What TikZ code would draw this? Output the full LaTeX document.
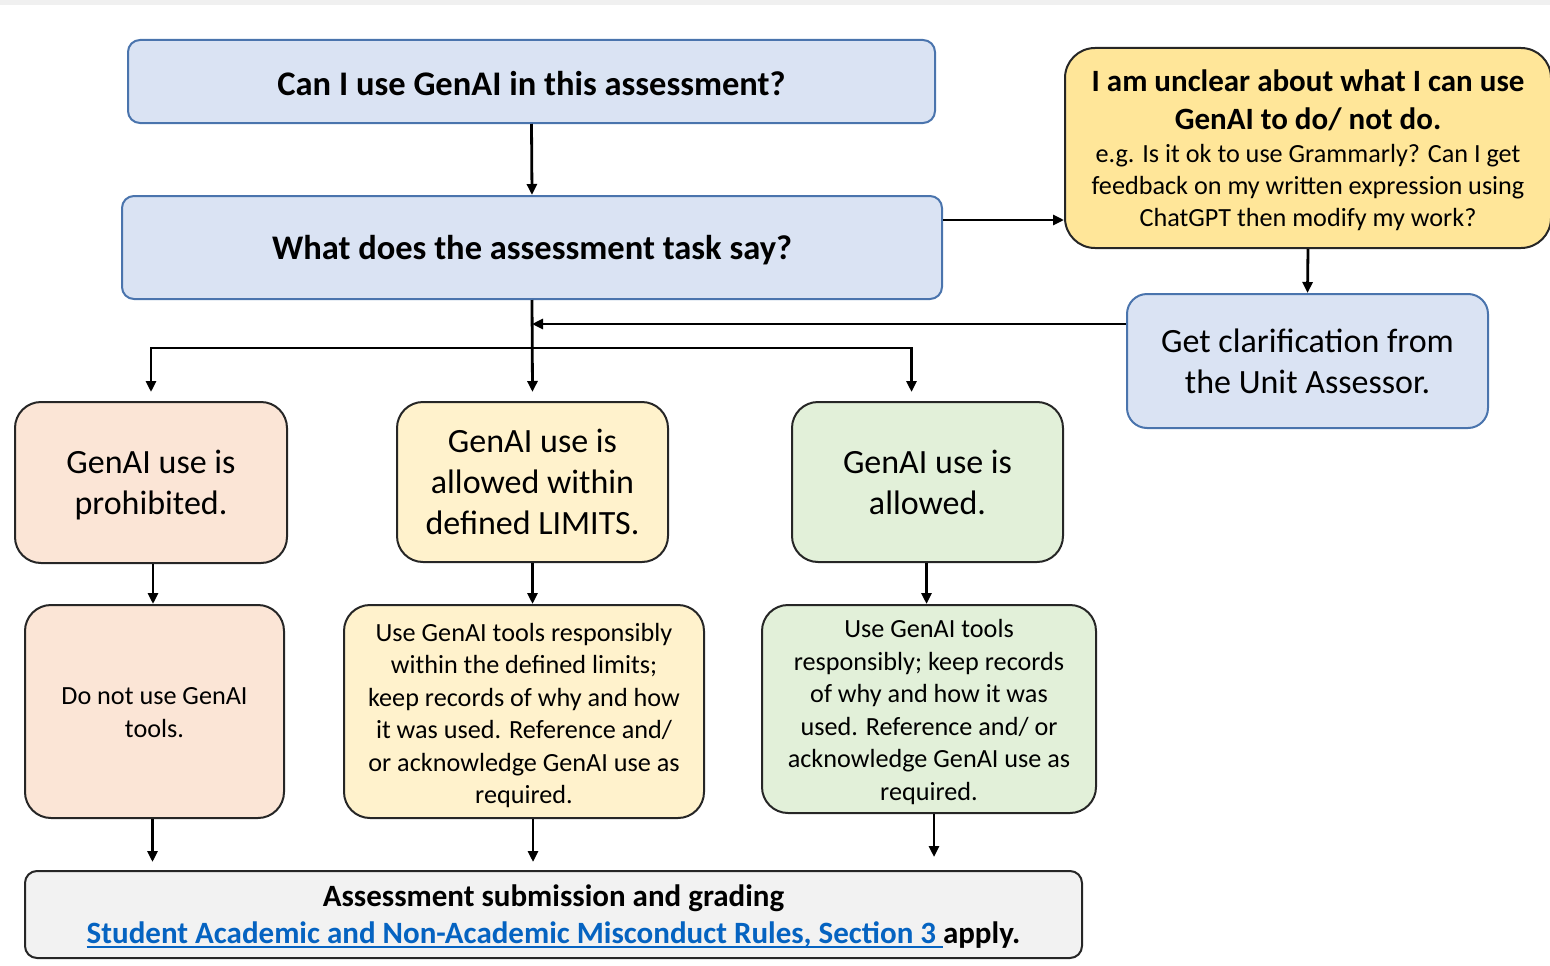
\documentclass[tikz,border=0pt]{standalone}
\usepackage{fontspec}
\setmainfont{Carlito}
\usetikzlibrary{arrows.meta,calc}

\definecolor{bluefill}{HTML}{DAE3F3}
\definecolor{blueline}{HTML}{4A74AD}
\definecolor{yellowfill}{HTML}{FFE699}
\definecolor{peachfill}{HTML}{FBE5D6}
\definecolor{creamfill}{HTML}{FFF2CC}
\definecolor{greenfill}{HTML}{E2F0D9}
\definecolor{greyfill}{HTML}{F2F2F2}
\definecolor{linkblue}{HTML}{0563C1}
\definecolor{topband}{HTML}{F0F0F0}

% underlined hyperlink look
\newcommand\linktext[1]{{\color{linkblue}\setbox0\hbox{#1}\rlap{\raisebox{-5pt}{\rule{\wd0}{1.6pt}}}\box0}}
% move text down inside a box without changing its size
\newcommand\dropby[2]{\raisebox{-#1}[\height][\depth]{#2}}

\tikzset{
  box/.style={draw, line width=2pt, align=center, inner sep=0pt, text=black},
  bluebox/.style={box, fill=bluefill, draw=blueline, rounded corners=12pt},
  darkbox/.style={box, draw=black!85, rounded corners=26pt},
  arr/.style={line width=2.8pt, -{Triangle[length=11pt,width=10pt]}},
  big/.style={font=\fontsize{34}{41}\selectfont},
  bigbold/.style={font=\fontsize{34.5}{41}\selectfont\bfseries},
  small/.style={font=\fontsize{26.2}{32.5}\selectfont},
  line/.style={anchor=base, inner sep=0pt},
}

\begin{document}
\begin{tikzpicture}[x=1pt,y=-1pt]
\useasboundingbox (0,0) rectangle (1550,966);
\fill[topband] (0,0) rectangle (1550,5);

% question boxes
\node[bluebox, bigbold, minimum width=807pt, minimum height=83pt] (q1) at (531.5,81.5)
  {\dropby{2pt}{Can I use GenAI in this assessment?}};
\node[bluebox, bigbold, minimum width=820pt, minimum height=103pt] (q2) at (532,247.5)
  {\dropby{3pt}{What does the assessment task say?}};

% uncertainty branch
\node[darkbox, fill=yellowfill, rounded corners=30pt, minimum width=486pt, minimum height=200pt] (unclear) at (1308,148) {};
\node[line, font=\fontsize{31}{37}\selectfont\bfseries] (u1) at (1308,92) {I am unclear about what I can use};
\node[line, font=\fontsize{31}{37}\selectfont\bfseries] (u2) at (1308,129) {GenAI to do/ not do.};
\node[line, small] (u3) at (1308,162) {e.g. Is it ok to use Grammarly? Can I get};
\node[line, small] (u4) at (1308,194) {feedback on my written expression using};
\node[line, small] (u5) at (1308,226) {ChatGPT then modify my work?};
\node[bluebox, big, rounded corners=20pt, minimum width=361pt, minimum height=134pt] (clar) at (1307.5,361)
  {Get clarification from\\the Unit Assessor.};

% three outcomes
\node[darkbox, big, fill=peachfill, minimum width=272pt, minimum height=161pt] (p1) at (151,482.5)
  {\dropby{3pt}{\parbox{250pt}{\centering GenAI use is\\prohibited.}}};
\node[darkbox, big, fill=creamfill, minimum width=271pt, minimum height=160pt] (p2) at (532.5,482)
  {GenAI use is\\allowed within\\defined LIMITS.};
\node[darkbox, big, fill=greenfill, minimum width=271pt, minimum height=160pt] (p3) at (927.5,482)
  {GenAI use is\\allowed.};

% what to do
\node[darkbox, small, fill=peachfill, minimum width=259pt, minimum height=213pt] (d1) at (154.5,711.5)
  {\dropby{1pt}{\parbox{240pt}{\centering Do not use GenAI\\tools.}}};
\node[darkbox, small, fill=creamfill, minimum width=360pt, minimum height=213pt] (d2) at (524,711.5)
  {\dropby{4pt}{\parbox{340pt}{\centering Use GenAI tools responsibly\\within the defined limits;\\keep records of why and how\\it was used. Reference and/\\or acknowledge GenAI use as\\required.}}};
\node[darkbox, small, fill=greenfill, minimum width=334pt, minimum height=208pt] (d3) at (929,709)
  {\dropby{3pt}{\parbox{320pt}{\centering Use GenAI tools\\responsibly; keep records\\of why and how it was\\used. Reference and/ or\\acknowledge GenAI use as\\required.}}};

% submission
\node[box, draw=black!85, fill=greyfill, rounded corners=12pt, minimum width=1057pt, minimum height=87pt] (bot) at (553.5,914.5) {};
\node[line, font=\fontsize{31}{37}\selectfont\bfseries] (b1) at (553.5,906) {Assessment submission and grading};
\node[line, font=\fontsize{31}{37}\selectfont\bfseries] (b2) at (553.5,943)
  {\linktext{Student Academic and Non-Academic Misconduct Rules, Section 3 }apply.};

% connectors
\draw[arr] (q1.south) -- (q2.north);
\draw[arr] ([yshift=27.5pt]q2.east) -- ([yshift=27.5pt]q2.east -| unclear.west);
\draw[arr] (unclear.south) -- (clar.north);
\draw[arr] ([yshift=37pt]clar.west) -- ([yshift=37pt]clar.west -| q2.south);

\coordinate (fork) at (q2.south |- 0,348);
\draw[arr] (q2.south) -- ([yshift=9pt]p2.north);
\draw[arr] (fork) -| ([yshift=9pt]p1.north);
\draw[arr] (fork) -| ([xshift=-16pt,yshift=9pt]p3.north);

\draw[arr] ([xshift=2pt]p1.south) -- ([xshift=2pt]p1.south |- d1.north);
\draw[arr] (p2.south) -- (p2.south |- d2.north);
\draw[arr] ([xshift=-1pt]p3.south) -- ([xshift=-1pt]p3.south |- d3.north);

\draw[arr] ([xshift=-2pt]d1.south) -- ([xshift=-2pt,yshift=8pt]d1.south |- bot.north);
\draw[arr] ([xshift=9pt]d2.south) -- ([xshift=9pt,yshift=8pt]d2.south |- bot.north);
\draw[arr] ([xshift=5pt]d3.south) -- ([xshift=5pt,yshift=13pt]d3.south |- bot.north);
\end{tikzpicture}
\end{document}
